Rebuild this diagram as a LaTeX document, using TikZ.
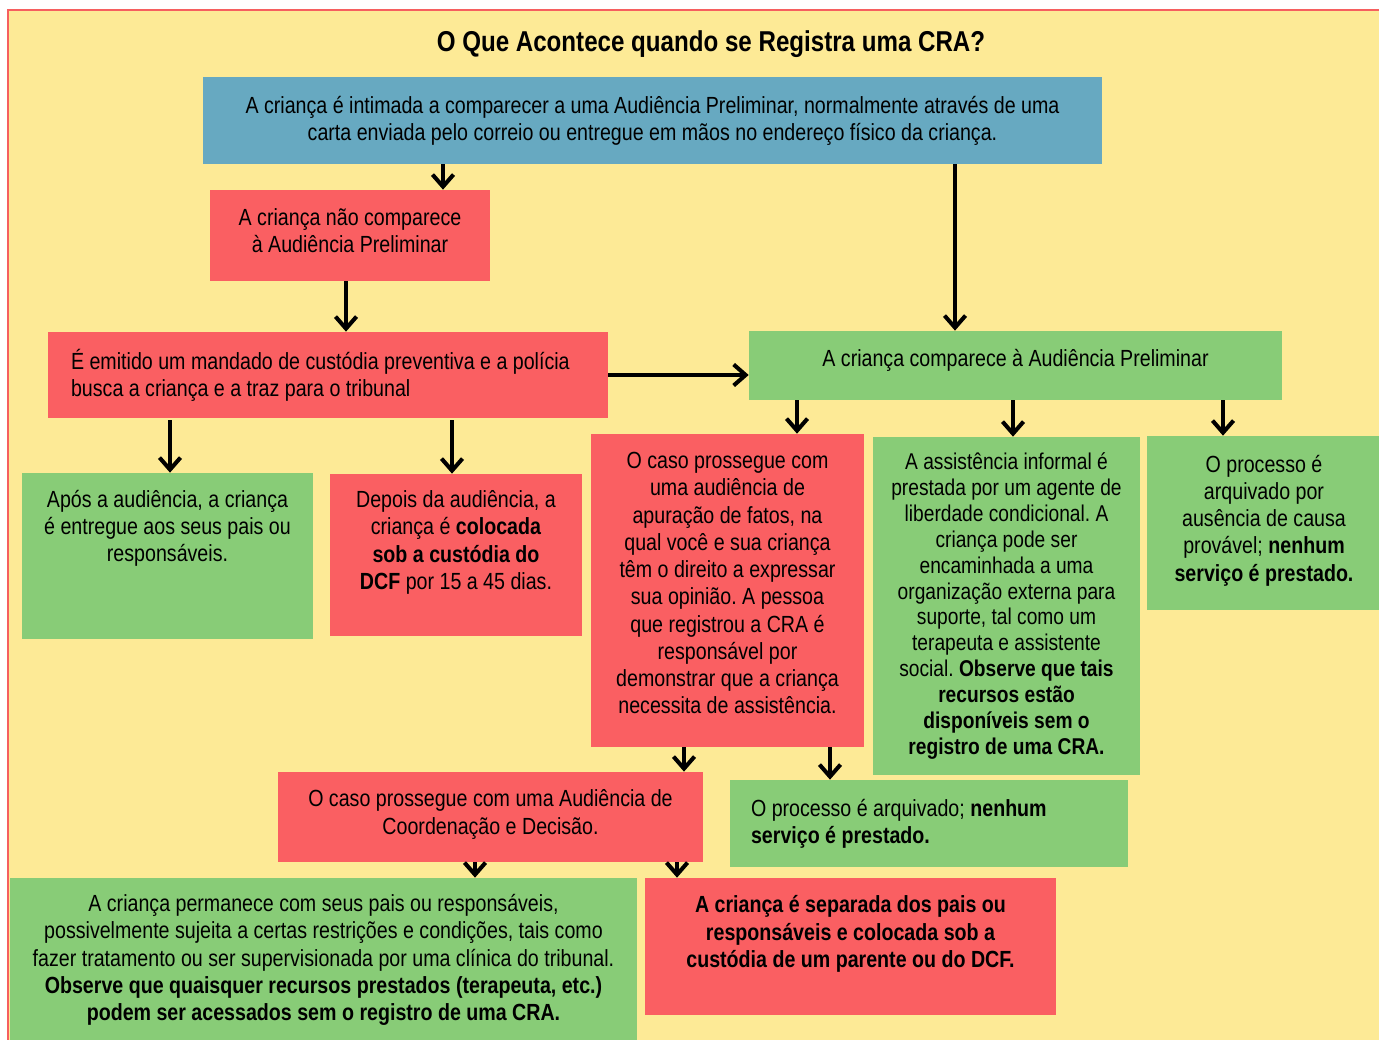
\documentclass[tikz,border=0pt]{standalone}
\usepackage{fontspec}
\setmainfont{Liberation Sans}[FakeStretch=0.84]
\usepackage{tikz}
\usetikzlibrary{arrows.meta}
\frenchspacing

\definecolor{bgyellow}{HTML}{FDEA96}
\definecolor{framered}{HTML}{F65F5F}
\definecolor{boxred}{HTML}{FA5F62}
\definecolor{boxgreen}{HTML}{88CC77}
\definecolor{boxblue}{HTML}{67A9C1}

\tikzset{
  box/.style={rectangle, inner sep=0pt, align=center, font=\fontsize{13.3}{15.5}\selectfont},
  redbox/.style={box, fill=boxred},
  greenbox/.style={box, fill=boxgreen},
  bluebox/.style={box, fill=boxblue},
  arr/.style={-{Straight Barb[length=2.4mm,width=4.2mm]}, line width=2.3pt, black}
}

\begin{document}
\begin{tikzpicture}[x=0.02cm,y=-0.02cm]
	\useasboundingbox (0,0) rectangle (1379,1040);
	\draw[framered, fill=bgyellow, line width=1pt] (8,10) rectangle (1390,1050);
	\node[font=\fontsize{16.35}{19}\selectfont\bfseries] (title) at (711,44) {O Que Acontece quando se Registra uma CRA?};

	\node[bluebox, minimum width=17.98cm, minimum height=1.74cm] (intim) at (652.5,120.5)
		{A criança é intimada a comparecer a uma Audiência Preliminar, normalmente através de uma\\ carta enviada pelo correio ou entregue em mãos no endereço físico da criança.};
	\node[redbox, minimum width=5.6cm, minimum height=1.82cm, text depth=0.2cm] (naocomp) at (350,235.5)
		{A criança não comparece\\ à Audiência Preliminar};
	\node[redbox, align=flush left, text width=10.28cm, inner xsep=0.46cm, minimum height=1.72cm] (mandado) at (328,375)
		{É emitido um mandado de custódia preventiva e a polícia\\ busca a criança e a traz para o tribunal};
	\node[greenbox, minimum width=10.66cm, minimum height=1.38cm, text depth=0.3cm] (comparece) at (1015.5,365.5)
		{A criança comparece à Audiência Preliminar};

	\node[greenbox, minimum width=5.82cm, minimum height=3.32cm, text depth=1.2cm] (apos) at (167.5,556)
		{Após a audiência, a criança\\ é entregue aos seus pais ou\\ responsáveis.};
	\node[redbox, minimum width=5.04cm, minimum height=3.24cm, text depth=0.6cm] (depois) at (456,555)
		{Depois da audiência, a\\ criança é \textbf{colocada}\\ \textbf{sob a custódia do}\\ \textbf{DCF} por 15 a 45 dias.};
	\node[redbox, minimum width=5.46cm, minimum height=6.26cm, text depth=0.3cm] (caso) at (727.5,590.5)
		{O caso prossegue com\\ uma audiência de\\ apuração de fatos, na\\ qual você e sua criança\\ têm o direito a expressar\\ sua opinião. A pessoa\\ que registrou a CRA é\\ responsável por\\ demonstrar que a criança\\ necessita de assistência.};
	\node[greenbox, minimum width=5.34cm, minimum height=6.76cm, font=\fontsize{13}{14.7}\selectfont] (assist) at (1006.5,606)
		{A assistência informal é\\ prestada por um agente de\\ liberdade condicional. A\\ criança pode ser\\ encaminhada a uma\\ organização externa para\\ suporte, tal como um\\ terapeuta e assistente\\ social. \textbf{Observe que tais}\\ \textbf{recursos estão}\\ \textbf{disponíveis sem o}\\ \textbf{registro de uma CRA.}};
	\node[greenbox, minimum width=4.68cm, minimum height=3.48cm, text depth=0.2cm] (arquiv) at (1264,523)
		{O processo é\\ arquivado por\\ ausência de causa\\ provável; \textbf{nenhum}\\ \textbf{serviço é prestado.}};

	\node[redbox, minimum width=8.5cm, minimum height=1.8cm, text depth=0.2cm] (coord) at (490.5,817)
		{O caso prossegue com uma Audiência de\\ Coordenação e Decisão.};
	\node[greenbox, align=flush left, text width=7.12cm, inner xsep=0.42cm, minimum height=1.74cm] (arquivado) at (929,823.5)
		{O processo é arquivado; \textbf{nenhum}\\ \textbf{serviço é prestado.}};
	\node[greenbox, minimum width=12.54cm, minimum height=3.28cm] (permanece) at (323.5,960)
		{A criança permanece com seus pais ou responsáveis,\\ possivelmente sujeita a certas restrições e condições, tais como\\ fazer tratamento ou ser supervisionada por uma clínica do tribunal.\\ \textbf{Observe que quaisquer recursos prestados (terapeuta, etc.)}\\ \textbf{podem ser acessados sem o registro de uma CRA.}};
	\node[redbox, minimum width=8.22cm, minimum height=2.74cm, text depth=0.6cm, font=\fontsize{13.3}{15.5}\selectfont\bfseries] (separada) at (850.5,946.5)
		{A criança é separada dos pais ou\\ responsáveis e colocada sob a\\ custódia de um parente ou do DCF.};

	% arrows
	\draw[arr] (443,0 |- intim.south) -- (443,0 |- naocomp.north);
	\draw[arr] (955,0 |- intim.south) -- (955,0 |- comparece.north);
	\draw[arr] (346,0 |- naocomp.south) -- (346,0 |- mandado.north);
	\draw[arr] (mandado.east) -- (mandado.east -| comparece.west);
	\draw[arr] (170,0 |- mandado.south) ++(0,2) -- (170,0 |- apos.north);
	\draw[arr] (452,0 |- mandado.south) ++(0,2) -- (452,0 |- depois.north);
	\draw[arr] (797,0 |- comparece.south) -- (797,0 |- caso.north);
	\draw[arr] (1013,0 |- comparece.south) -- (1013,0 |- assist.north);
	\draw[arr] (1223,0 |- comparece.south) -- (1223,0 |- arquiv.north);
	\draw[arr] (684,0 |- caso.south) -- (684,0 |- coord.north);
	\draw[arr] (830,0 |- caso.south) -- (830,0 |- arquivado.north);
	\draw[arr] (475,0 |- coord.south) -- (475,0 |- permanece.north);
	\draw[arr] (677,0 |- coord.south) -- (677,0 |- separada.north);
\end{tikzpicture}
\end{document}
